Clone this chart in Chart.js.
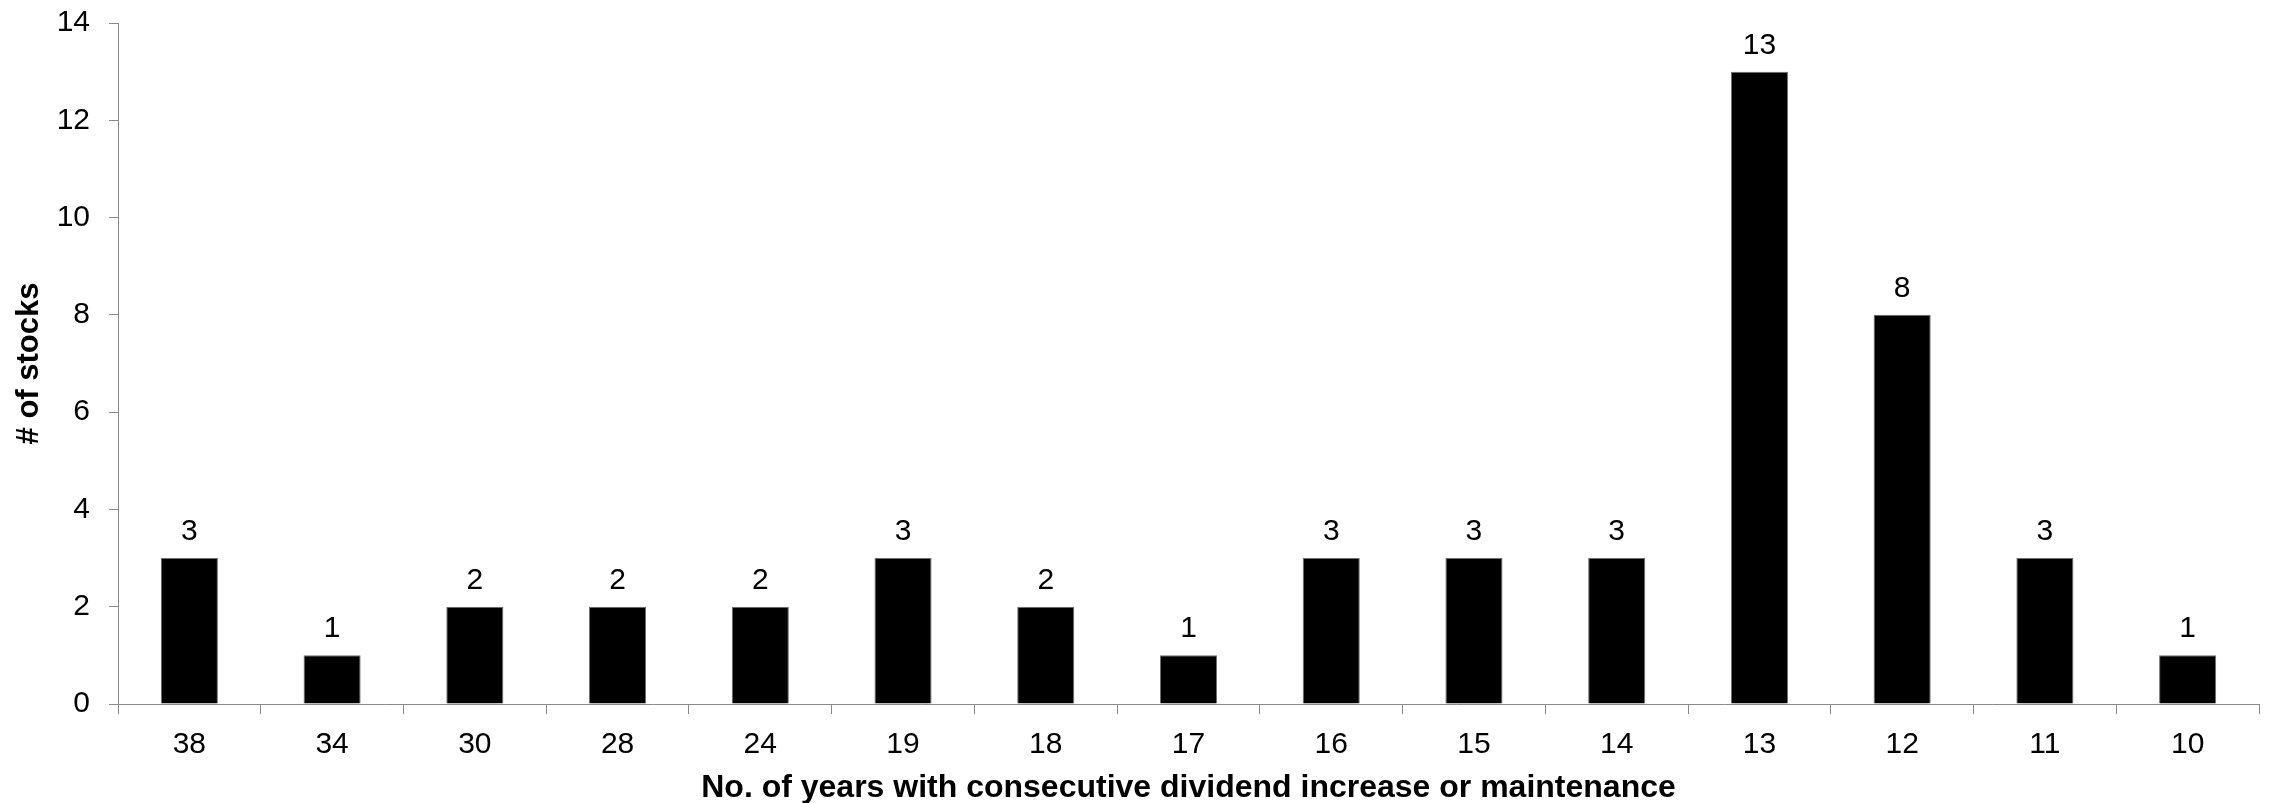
<!DOCTYPE html>
<html>
<head>
<meta charset="utf-8">
<script src="https://cdn.jsdelivr.net/npm/chart.js@4"></script>
<style>
  html, body { margin: 0; padding: 0; background: #ffffff; }
  canvas { display: block; }
</style>
</head>
<body>
<canvas id="chart" width="2270" height="803"></canvas>
<script>
// Years of consecutive dividend increase/maintenance, and how many stocks have each
const years = ['38', '34', '30', '28', '24', '19', '18', '17', '16', '15', '14', '13', '12', '11', '10'];
const stockCounts = [3, 1, 2, 2, 2, 3, 2, 1, 3, 3, 3, 13, 8, 3, 1];
const yTicks = [0, 2, 4, 6, 8, 10, 12, 14];

const FONT = '"Liberation Sans", Arial, Helvetica, sans-serif';
const AXIS_GRAY = '#8a8a8a';

// Writes each bar's value just above it
const valueLabels = {
  id: 'valueLabels',
  afterDatasetsDraw(chart) {
    const ctx = chart.ctx;
    const meta = chart.getDatasetMeta(0);
    const data = chart.data.datasets[0].data;
    ctx.save();
    ctx.font = '30px ' + FONT;
    ctx.fillStyle = '#000000';
    ctx.textAlign = 'center';
    ctx.textBaseline = 'alphabetic';
    meta.data.forEach((bar, i) => {
      ctx.fillText(String(data[i]), bar.x, bar.y - 18);
    });
    ctx.restore();
  }
};

new Chart(document.getElementById('chart'), {
  type: 'bar',
  data: {
    labels: years,
    datasets: [{
      data: stockCounts,
      backgroundColor: '#000000',
      borderColor: '#6e6e6e',
      borderWidth: 1,
      categoryPercentage: 1.0,
      barPercentage: 0.4
    }]
  },
  options: {
    responsive: false,
    animation: false,
    devicePixelRatio: 1,
    layout: { padding: { top: 23, right: 11, left: 0, bottom: 0 } },
    plugins: {
      legend: { display: false },
      tooltip: { enabled: false }
    },
    scales: {
      x: {
        grid: {
          offset: true,
          drawOnChartArea: false,
          drawTicks: true,
          tickLength: 10,
          color: AXIS_GRAY,
          lineWidth: 1
        },
        border: { display: true, color: AXIS_GRAY, width: 1 },
        ticks: {
          color: '#000000',
          font: { family: FONT, size: 30 },
          padding: 13,
          maxRotation: 0,
          autoSkip: false
        },
        title: {
          display: true,
          text: 'No. of years with consecutive dividend increase or maintenance',
          color: '#000000',
          font: { family: FONT, size: 32, weight: 'bold' },
          padding: { top: 0, bottom: -4 }
        },
        afterFit(scale) {
          scale.height = 99;
          scale.paddingLeft = 0;
          scale.paddingRight = 0;
        }
      },
      y: {
        min: 0,
        max: 14,
        afterBuildTicks(scale) {
          scale.ticks = yTicks.map(v => ({ value: v }));
        },
        grid: {
          drawOnChartArea: false,
          drawTicks: true,
          tickLength: 9,
          color: AXIS_GRAY,
          lineWidth: 1
        },
        border: { display: true, color: AXIS_GRAY, width: 1 },
        ticks: {
          color: '#000000',
          font: { family: FONT, size: 30 },
          padding: 19
        },
        title: {
          display: true,
          text: '# of stocks',
          color: '#000000',
          font: { family: FONT, size: 31, weight: 'bold' },
          padding: { top: 11, bottom: 0 }
        },
        afterFit(scale) {
          scale.width = 118;
          scale.paddingTop = 0;
          scale.paddingBottom = 0;
        }
      }
    }
  },
  plugins: [valueLabels]
});
</script>
</body>
</html>
